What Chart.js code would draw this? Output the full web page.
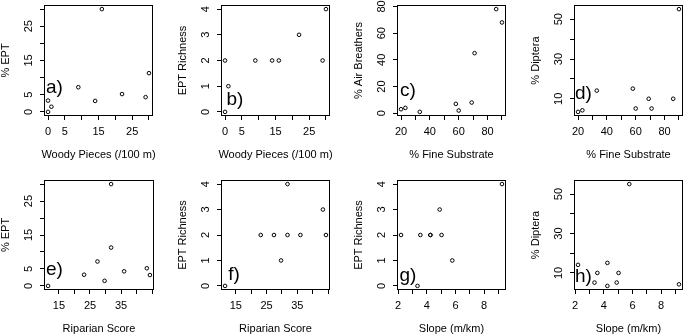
<!DOCTYPE html>
<html lang="en">
<head>
<meta charset="UTF-8" />
<title>EPT, air breathers and Diptera vs habitat</title>
<style>
  body { margin: 0; width: 685px; height: 336px; overflow: hidden; background: #fff; position: relative; }
  canvas { position: absolute; }
</style>
</head>
<body>

<script src="https://cdn.jsdelivr.net/npm/chart.js"></script>
<script>
// one value per site, same site order in every array
const woodyPieces    = [0, 1, 0, 9, 14, 16, 22, 29, 30];
const eptPercent     = [3.3, 1.5, 0, 7.2, 3.2, 30, 5.2, 4.3, 11.3];
const eptRichness    = [2, 1, 0, 2, 2, 2, 3, 2, 4];
const riparianScore  = [23.1, 29.7, 11.5, 27.4, 44.3, 31.8, 43.3, 36.0, 31.8];
const fineSubstrate  = [33, 90, 60, 69, 58, 20, 71, 86, 23];
const airBreathers   = [1, 68, 2, 8, 7, 3, 45, 78, 4];
const dipteraPercent = [14.1, 55.1, 5.1, 10, 15.1, 3.4, 5.1, 10, 4.2];
const slope          = [2.2, 5.78, 3.35, 3.55, 4.25, 4.25, 4.9, 5.03, 9.25];

// tick marks, and the labels R kept ('' = label dropped)
const ticksWoody     = [0, 5, 10, 15, 20, 25, 30];
const labelsWoody    = ['0', '5', '', '15', '', '25', ''];
const ticksEptPct    = [0, 5, 10, 15, 20, 25, 30];
const labelsEptPct   = ['0', '5', '', '15', '', '25', ''];
const ticksRich      = [0, 1, 2, 3, 4];
const labelsRich     = ['0', '1', '2', '3', '4'];
const ticksFine      = [20, 30, 40, 50, 60, 70, 80, 90];
const labelsFine     = ['20', '', '40', '', '60', '', '80', ''];
const ticksAir       = [0, 20, 40, 60, 80];
const labelsAir      = ['0', '20', '40', '60', '80'];
const ticksDiptera   = [10, 20, 30, 40, 50];
const labelsDiptera  = ['10', '', '30', '', '50'];
const ticksRiparian  = [15, 20, 25, 30, 35, 40, 45];
const labelsRiparian = ['15', '', '25', '', '35', '', ''];
const ticksSlope     = [2, 3, 4, 5, 6, 7, 8, 9];
const labelsSlope    = ['2', '', '4', '', '6', '', '8', ''];

const panels = [
  { tag: 'a)', x: woodyPieces, y: eptPercent, xt: ticksWoody, xl: labelsWoody, yt: ticksEptPct, yl: labelsEptPct, xTitle: 'Woody Pieces (/100 m)', yTitle: '% EPT' },
  { tag: 'b)', x: woodyPieces, y: eptRichness, xt: ticksWoody, xl: labelsWoody, yt: ticksRich, yl: labelsRich, xTitle: 'Woody Pieces (/100 m)', yTitle: 'EPT Richness' },
  { tag: 'c)', x: fineSubstrate, y: airBreathers, xt: ticksFine, xl: labelsFine, yt: ticksAir, yl: labelsAir, xTitle: '% Fine Substrate', yTitle: '% Air Breathers' },
  { tag: 'd)', x: fineSubstrate, y: dipteraPercent, xt: ticksFine, xl: labelsFine, yt: ticksDiptera, yl: labelsDiptera, xTitle: '% Fine Substrate', yTitle: '% Diptera' },
  { tag: 'e)', x: riparianScore, y: eptPercent, xt: ticksRiparian, xl: labelsRiparian, yt: ticksEptPct, yl: labelsEptPct, xTitle: 'Riparian Score', yTitle: '% EPT' },
  { tag: 'f)', x: riparianScore, y: eptRichness, xt: ticksRiparian, xl: labelsRiparian, yt: ticksRich, yl: labelsRich, xTitle: 'Riparian Score', yTitle: 'EPT Richness' },
  { tag: 'g)', x: slope, y: eptRichness, xt: ticksSlope, xl: labelsSlope, yt: ticksRich, yl: labelsRich, xTitle: 'Slope (m/km)', yTitle: 'EPT Richness' },
  { tag: 'h)', x: slope, y: dipteraPercent, xt: ticksSlope, xl: labelsSlope, yt: ticksDiptera, yl: labelsDiptera, xTitle: 'Slope (m/km)', yTitle: '% Diptera' }
];

// plot box of each panel on the page: left, top, width, height
const boxes = [
  [44, 5, 109, 111], [221, 5, 109, 111], [397, 5, 109, 111], [574, 5, 109, 111],
  [44, 180, 110, 110], [221, 180, 109, 110], [397, 180, 109, 110], [574, 180, 109, 110]
];
// where the panel letter sits, from box left / box bottom
const tagPos = [[10.5, 28], [14, 16], [11, 25.5], [9.5, 22], [10.5, 20.5], [13, 15.5], [11, 14], [9.5, 13]];

const Y_W = 45, X_H = 45, PAD_T = 20, PAD_R = 10;
const FONT = 'Liberation Sans, Arial, sans-serif';

// R style range: data range stretched by 4% at each end
function rRange(arr) {
  const lo = Math.min(...arr), hi = Math.max(...arr), d = (hi - lo) * 0.04;
  return [lo - d, hi + d];
}

// box round the plot, x title (wider than the box, so not the scale title) and panel letter
const framePlugin = {
  id: 'frame',
  afterDraw(chart, args, opts) {
    const { ctx, chartArea: a } = chart;
    ctx.save();
    ctx.strokeStyle = '#000';
    ctx.lineWidth = 1;
    ctx.strokeRect(a.left + 0.5, a.top + 0.5, a.right - a.left - 1, a.bottom - a.top - 1);
    ctx.fillStyle = '#000';
    ctx.textAlign = 'center';
    ctx.textBaseline = 'middle';
    ctx.font = '11px ' + FONT;
    ctx.fillText(opts.xTitle, (a.left + a.right) / 2, a.bottom + 38.5);
    ctx.font = '19px ' + FONT;
    ctx.fillText(opts.tag, a.left + opts.dx, a.bottom - opts.dy);
    ctx.restore();
  }
};

panels.forEach((p, i) => {
  const [bl, bt, bw, bh] = boxes[i];
  const cv = document.createElement('canvas');
  cv.width = Y_W + bw + PAD_R;
  cv.height = PAD_T + bh + X_H;
  cv.style.left = (bl - Y_W) + 'px';
  cv.style.top = (bt - PAD_T) + 'px';
  document.body.appendChild(cv);

  const [xmin, xmax] = rRange(p.x);
  const [ymin, ymax] = rRange(p.y);
  const yLen = Math.max(...p.yl.map(s => s.length));

  new Chart(cv, {
    type: 'scatter',
    data: {
      datasets: [{
        data: p.x.map((v, k) => ({ x: v, y: p.y[k] })),
        pointRadius: 1.8,
        pointBorderWidth: 1,
        borderColor: '#000',
        backgroundColor: 'rgba(0,0,0,0)',
        clip: false
      }]
    },
    options: {
      responsive: false,
      animation: false,
      layout: { padding: { top: PAD_T, right: PAD_R, left: 0, bottom: 0 } },
      plugins: {
        legend: { display: false },
        tooltip: { enabled: false },
        frame: { tag: p.tag, xTitle: p.xTitle, dx: tagPos[i][0], dy: tagPos[i][1] }
      },
      scales: {
        x: {
          type: 'linear',
          min: xmin, max: xmax,
          afterBuildTicks: s => { s.ticks = p.xt.map(v => ({ value: v })); },
          afterFit: s => { s.height = X_H; },
          grid: { drawOnChartArea: false, drawTicks: true, tickLength: 4, color: '#000' },
          border: { display: false },
          ticks: {
            padding: 5, color: '#000', font: { family: FONT, size: 11 },
            autoSkip: false, maxRotation: 0,
            callback: (v, k) => p.xl[k]
          },
          title: { display: false }
        },
        y: {
          type: 'linear',
          min: ymin, max: ymax,
          afterBuildTicks: s => { s.ticks = p.yt.map(v => ({ value: v })); },
          afterFit: s => { s.width = Y_W; },
          grid: { drawOnChartArea: false, drawTicks: true, tickLength: 4, color: '#000' },
          border: { display: false },
          ticks: {
            padding: 11.5 - 3.06 * yLen, color: '#000', font: { family: FONT, size: 11 },
            autoSkip: false, minRotation: 90, maxRotation: 90, crossAlign: 'center',
            callback: (v, k) => p.yl[k]
          },
          title: { display: true, text: p.yTitle, color: '#000', font: { family: FONT, size: 11 }, padding: 0 }
        }
      }
    },
    plugins: [framePlugin]
  });
});
</script>
</body>
</html>
